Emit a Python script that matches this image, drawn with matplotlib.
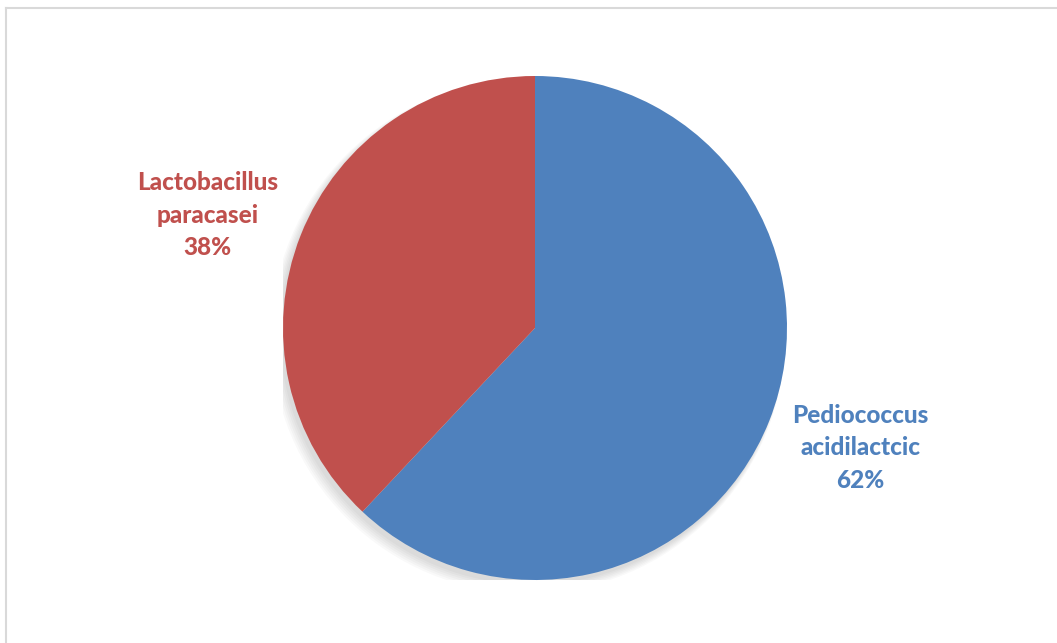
import matplotlib.pyplot as plt
from matplotlib.patches import Circle
from matplotlib.lines import Line2D

species = ["Pediococcus\nacidilactcic", "Lactobacillus\nparacasei"]
shares = [62, 38]
colors = ["#4F81BD", "#C0504D"]
# label centres in pie radius units (Excel "best fit" placement)
label_pos = [(1.29, -0.476), (-1.298, 0.448)]


def main():
    fig = plt.figure(figsize=(10.57, 6.43), dpi=100)
    W, H = 1057, 643

    # chart frame (only top and left visible)
    fig.add_artist(Line2D([5.5 / W, 5.5 / W], [0, 1 - 7.5 / H], transform=fig.transFigure,
                          color="#d9d9d9", lw=1.5))
    fig.add_artist(Line2D([5.5 / W, 1], [1 - 7.5 / H, 1 - 7.5 / H], transform=fig.transFigure,
                          color="#d9d9d9", lw=1.5))

    cx, cy, r = 535, 643 - 328, 252
    ax = fig.add_axes([(cx - r) / W, (cy - r) / H, 2 * r / W, 2 * r / H])

    # soft shadow
    for i in range(6):
        ax.add_patch(Circle((-0.012 - i * 0.003, -0.018 - i * 0.003), 1.0 + i * 0.004,
                            color="black", alpha=0.025, lw=0, zorder=0))

    wedges, _ = ax.pie(shares, colors=colors, startangle=90, counterclock=False,
                       wedgeprops=dict(linewidth=0))
    for w in wedges:
        w.set_zorder(2)

    for s, p, c, (x, y) in zip(species, shares, colors, label_pos):
        ax.text(x, y, f"{s}\n{p}%", color=c, ha="center", va="center",
                fontsize=17.5, fontweight="black", family=["Lato", "DejaVu Sans"],
                linespacing=1.5, clip_on=False)

    ax.set_xlim(-1, 1)
    ax.set_ylim(-1, 1)
    ax.set_aspect("equal")
    fig.savefig("out.png", dpi=100)


if __name__ == '__main__':
    main()
